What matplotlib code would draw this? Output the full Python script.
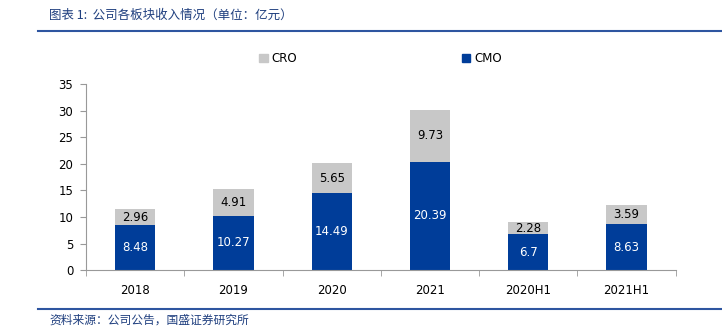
import matplotlib.pyplot as plt
from matplotlib.patches import Rectangle
from matplotlib.lines import Line2D

plt.rcParams['font.family'] = ['DejaVu Sans', 'Noto Sans CJK SC']

# data
periods = ['2018', '2019', '2020', '2021', '2020H1', '2021H1']
cmo = [8.48, 10.27, 14.49, 20.39, 6.7, 8.63]
cro = [2.96, 4.91, 5.65, 9.73, 2.28, 3.59]

blue = '#003D99'
grey = '#C8C8C8'
title_col = '#1F3F7F'

fig = plt.figure(figsize=(7.22, 3.27), dpi=100)
ax = fig.add_axes([0.119, 0.174, 0.817, 0.569])

x = range(len(periods))
w = 0.41
ax.bar(x, cmo, width=w, color=blue, zorder=2)
ax.bar(x, cro, width=w, bottom=cmo, color=grey, zorder=2)

for i in x:
    ax.text(i, cmo[i] / 2, f'{cmo[i]:g}', ha='center', va='center', color='white', fontsize=8.5)
    ax.text(i, cmo[i] + cro[i] / 2, f'{cro[i]:g}', ha='center', va='center', color='black', fontsize=8.5)

ax.set_xlim(-0.5, len(periods) - 0.5)
ax.set_ylim(0, 35)
ax.set_yticks(range(0, 36, 5))
ax.set_xticks(list(x))
ax.set_xticklabels(periods)
ax.set_xticks([i - 0.5 for i in range(len(periods) + 1)], minor=True)
ax.tick_params(axis='x', which='major', length=0, pad=10, labelsize=8.5)
ax.tick_params(axis='x', which='minor', length=4, color='#999999')
ax.tick_params(axis='y', length=4, color='#999999', labelsize=8.5, pad=5)
for s in ['top', 'right']:
    ax.spines[s].set_visible(False)
for s in ['left', 'bottom']:
    ax.spines[s].set_color('#999999')

# legend
handles = [Rectangle((0, 0), 1, 1, color=grey), Rectangle((0, 0), 1, 1, color=blue)]
fig.legend(handles, ['CRO', 'CMO'], loc='center', bbox_to_anchor=(0.527, 0.82), ncol=2,
           frameon=False, fontsize=8.5, handlelength=0.7, handleheight=0.7,
           handletextpad=0.3, columnspacing=14)

# title and source with rules
fig.text(0.068, 0.952, '图表 1:  公司各板块收入情况（单位：亿元）', fontsize=9, color=title_col,
         fontstyle='italic', va='center', family=['Noto Sans CJK SC', 'DejaVu Sans'])
fig.add_artist(Line2D([0.053, 1.0], [0.905, 0.905], color='#2E55A0', lw=1.5))
fig.add_artist(Line2D([0.053, 1.0], [0.055, 0.055], color='#2E55A0', lw=1.5))
fig.text(0.068, 0.022, '资料来源：公司公告，国盛证券研究所', fontsize=8.5, color=title_col,
         fontstyle='italic', va='center', family=['Noto Sans CJK SC', 'DejaVu Sans'])

fig.savefig('out.png', dpi=100)
